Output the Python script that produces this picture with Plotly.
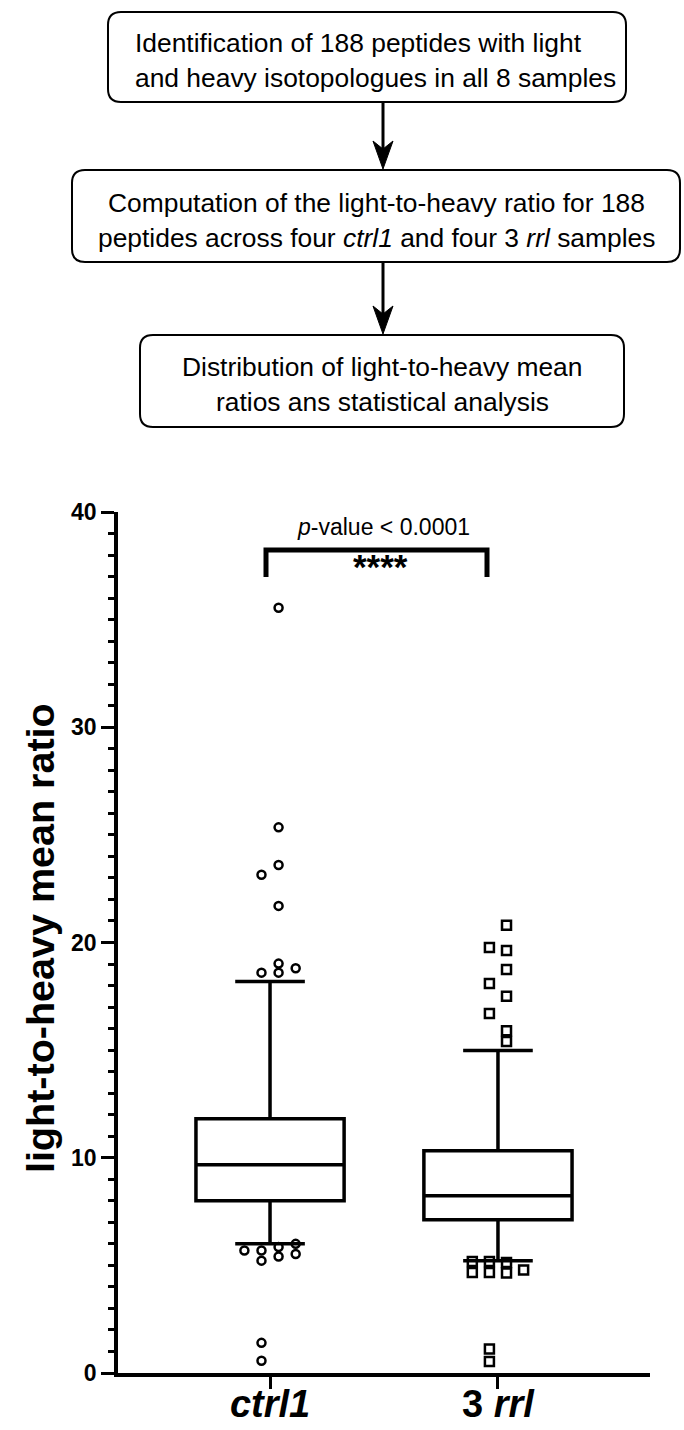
import plotly.graph_objects as go

# ---------------- data ----------------
groups = ["ctrl1", "3 rrl"]
group_labels = ["<b><i>ctrl1</i></b>", "<b>3 <i>rrl</i></b>"]

q1 = [8.0, 7.12]
median = [9.67, 8.23]
q3 = [11.81, 10.33]
lower_whisker = [6.0, 5.21]
upper_whisker = [18.19, 14.98]

ctrl1_outliers = [35.55, 25.35, 23.6, 23.15, 21.7, 19.02, 18.6, 18.6, 18.8,
                  5.69, 5.69, 5.22, 5.85, 5.41, 6.0, 5.53, 1.4, 0.57]
ctrl1_slots = [0.5, 0.5, 0.5, -0.5, 0.5, 0.5, -0.5, 0.5, 1.5,
               -1.5, -0.5, -0.5, 0.5, 0.5, 1.5, 1.5, -0.5, -0.5]

rrl_outliers = [20.8, 19.77, 19.63, 18.75, 18.1, 17.5, 16.7, 15.9, 15.4,
                5.18, 4.67, 5.18, 4.67, 5.13, 4.64, 4.79, 1.12, 0.53]
rrl_slots = [0.5, -0.5, 0.5, 0.5, -0.5, 0.5, -0.5, 0.5, 0.5,
             -1.5, -1.5, -0.5, -0.5, 0.5, 0.5, 1.5, -0.5, -0.5]

y_tickvals = [0, 10, 20, 30, 40]
y_ticktext = ["<b>0</b>", "<b>10</b>", "<b>20</b>", "<b>30</b>", "<b>40</b>"]

flow_box1 = ["Identification of 188 peptides with light",
             "and heavy isotopologues in all 8 samples"]
flow_box2 = ["Computation of the light-to-heavy ratio for 188",
             "peptides across four <i>ctrl1</i> and four 3 <i>rrl</i> samples"]
flow_box3 = ["Distribution of light-to-heavy mean",
             "ratios ans statistical analysis"]

# ---------------- layout geometry (pixels) ----------------
W, H = 684, 1430
PL, PR, PT, PB = 118, 650, 512, 1373   # plot area in pixels
DODGE = 0.075
FONT = "Arial, Liberation Sans, sans-serif"
FLOW_SIZE = 26.4


def px(x):
    return (x - PL) / (PR - PL)


def py(y):
    return (PB - y) / (PB - PT)


def rrect(x0, y0, x1, y1, r):
    pts = [
        ("M", [(x0 + r, y0)]),
        ("L", [(x1 - r, y0)]),
        ("Q", [(x1, y0), (x1, y0 + r)]),
        ("L", [(x1, y1 - r)]),
        ("Q", [(x1, y1), (x1 - r, y1)]),
        ("L", [(x0 + r, y1)]),
        ("Q", [(x0, y1), (x0, y1 - r)]),
        ("L", [(x0, y0 + r)]),
        ("Q", [(x0, y0), (x0 + r, y0)]),
    ]
    s = ""
    for cmd, ps in pts:
        s += cmd + " ".join(f"{px(a):.5f},{py(b):.5f}" for a, b in ps) + " "
    return s + "Z"


fig = go.Figure()

for i, g in enumerate(groups):
    fig.add_trace(go.Box(
        x=[i], q1=[q1[i]], median=[median[i]], q3=[q3[i]],
        lowerfence=[lower_whisker[i]], upperfence=[upper_whisker[i]],
        boxpoints=False, width=0.65, whiskerwidth=0.47,
        fillcolor="white", line=dict(color="black", width=3.5),
        name=g, showlegend=False, hoverinfo="skip",
    ))

fig.add_trace(go.Scatter(
    x=[0 + s * DODGE for s in ctrl1_slots], y=ctrl1_outliers, mode="markers",
    marker=dict(symbol="circle-open", size=8, color="black", line=dict(width=2.5, color="black")),
    showlegend=False, cliponaxis=False,
))
fig.add_trace(go.Scatter(
    x=[1 + s * DODGE for s in rrl_slots], y=rrl_outliers, mode="markers",
    marker=dict(symbol="square-open", size=9, color="black", line=dict(width=2.5, color="black")),
    showlegend=False, cliponaxis=False,
))

shapes = []
annotations = []

# flowchart boxes
boxes = [(108, 12, 626, 102), (72, 170, 680, 262), (140, 335, 624, 427)]
for b in boxes:
    shapes.append(dict(type="path", xref="paper", yref="paper", path=rrect(*b, 13),
                       line=dict(color="black", width=2), fillcolor="white"))

# arrows
for (y0, y1) in [(102, 170), (262, 335)]:
    shapes.append(dict(type="line", xref="paper", yref="paper",
                       x0=px(383), x1=px(383), y0=py(y0), y1=py(y1 - 12),
                       line=dict(color="black", width=3)))
    tip = y1 - 1
    path = (f"M{px(383):.5f},{py(tip):.5f} L{px(373):.5f},{py(tip - 28):.5f} "
            f"L{px(383):.5f},{py(tip - 20):.5f} L{px(393):.5f},{py(tip - 28):.5f} Z")
    shapes.append(dict(type="path", xref="paper", yref="paper", path=path,
                       line=dict(color="black", width=1), fillcolor="black"))

for txt, y in zip(flow_box1, [43, 78]):
    annotations.append(dict(text=txt, x=px(133), y=py(y), xref="paper", yref="paper",
                            xanchor="left", yanchor="middle", showarrow=False,
                            font=dict(family=FONT, size=FLOW_SIZE, color="black")))
for txt, y in zip(flow_box2, [203, 238]):
    annotations.append(dict(text=txt, x=px(376), y=py(y), xref="paper", yref="paper",
                            xanchor="center", yanchor="middle", showarrow=False,
                            font=dict(family=FONT, size=FLOW_SIZE, color="black")))
for txt, y in zip(flow_box3, [367, 402]):
    annotations.append(dict(text=txt, x=px(382), y=py(y), xref="paper", yref="paper",
                            xanchor="center", yanchor="middle", showarrow=False,
                            font=dict(family=FONT, size=FLOW_SIZE, color="black")))

# significance bracket
shapes.append(dict(type="path", xref="paper", yref="paper",
                   path=(f"M{px(266):.5f},{py(577):.5f} L{px(266):.5f},{py(550):.5f} "
                         f"L{px(487):.5f},{py(550):.5f} L{px(487):.5f},{py(577):.5f}"),
                   line=dict(color="black", width=5)))
annotations.append(dict(text="<i>p</i>-value &lt; 0.0001", x=px(383), y=py(527),
                        xref="paper", yref="paper", xanchor="center", yanchor="middle",
                        showarrow=False, font=dict(family=FONT, size=23, color="black")))
annotations.append(dict(text="<b>****</b>", x=px(380), y=py(566),
                        xref="paper", yref="paper", xanchor="center", yanchor="middle",
                        showarrow=False, font=dict(family=FONT, size=35, color="black")))

# y-axis title
annotations.append(dict(text="<b>light-to-heavy mean ratio</b>", x=px(40), y=py(938),
                        xref="paper", yref="paper", xanchor="center", yanchor="middle",
                        textangle=-90, showarrow=False,
                        font=dict(family=FONT, size=39.5, color="black")))

fig.update_layout(
    width=W, height=H,
    margin=dict(l=PL, r=W - PR, t=PT, b=H - PB, pad=0, autoexpand=False),
    plot_bgcolor="white", paper_bgcolor="white",
    shapes=shapes, annotations=annotations,
    font=dict(family=FONT, color="black"),
    xaxis=dict(range=[-0.667, 1.667], tickvals=[0, 1], ticktext=group_labels,
               automargin=False, ticklabelstandoff=-17,
               showgrid=False, zeroline=False, showline=True, linecolor="black",
               linewidth=3.5, ticks="outside", ticklen=12, tickwidth=3, tickcolor="black",
               tickfont=dict(family=FONT, size=38, color="black")),
    yaxis=dict(range=[0, 40], tickvals=y_tickvals, ticktext=y_ticktext,
               automargin=False,
               showgrid=False, zeroline=False, showline=True, linecolor="black",
               linewidth=3.5, ticks="outside", ticklen=13, tickwidth=3, tickcolor="black",
               tickfont=dict(family=FONT, size=23, color="black"),
               minor=dict(ticks="outside", dtick=1, ticklen=6, tickwidth=2.5,
                          tickcolor="black", showgrid=False)),
)

fig.write_html("out.html")
